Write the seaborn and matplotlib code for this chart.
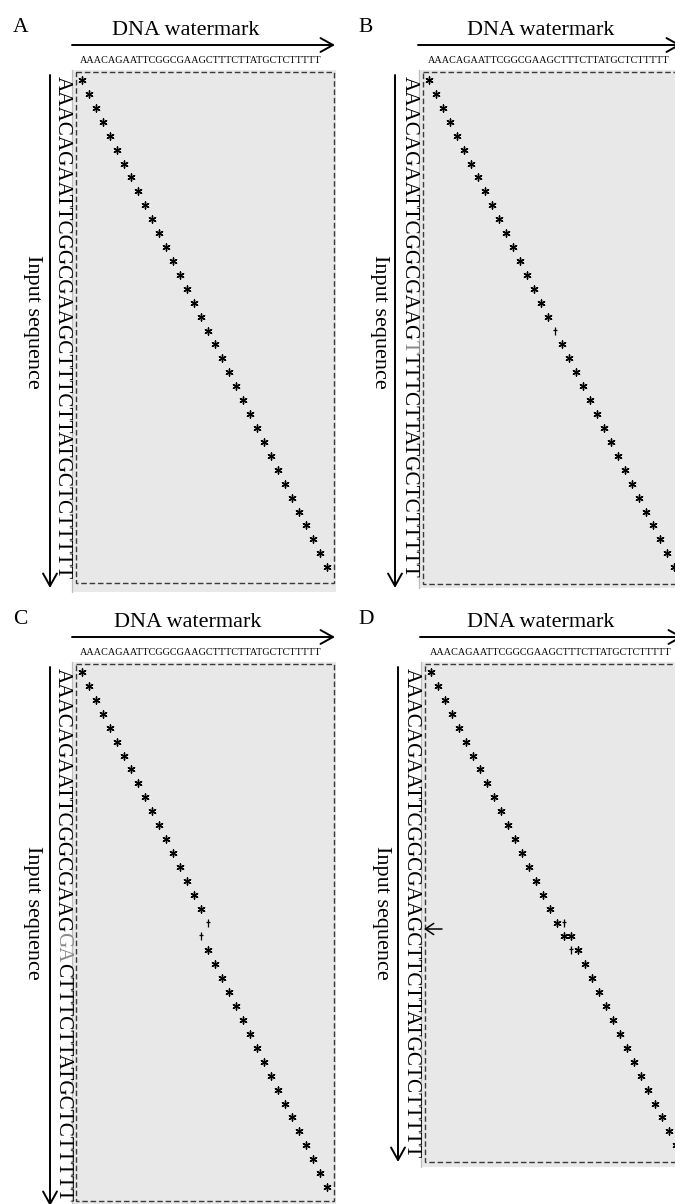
import matplotlib
matplotlib.use("Agg")
import pandas as pd
import seaborn as sns
import matplotlib.pyplot as plt
from matplotlib.patches import Rectangle, FancyArrowPatch
from matplotlib.path import Path
from matplotlib.font_manager import FontProperties

# ---- data -------------------------------------------------------------
watermark = "AAACAGAATTCGGCGAAGCTTTCTTATGCTCTTTTT"
panel_labels = ["A", "B", "C", "D"]
input_seqs = [
    "AAACAGAATTCGGCGAAGCTTTCTTATGCTCTTTTT",    # original
    "AAACAGAATTCGGCGAAGTTTTCTTATGCTCTTTTT",    # substitution C->T
    "AAACAGAATTCGGCGAAGGACTTTCTTATGCTCTTTTT",  # insertion GA
    "AAACAGAATTCGGCGAAGCTTCTTATGCTCTTTTT",     # deletion of one T
]
grey_letters = [[], [18], [18, 19], []]

# matched cells (row = input position, col = watermark position)
full_rows = [
    [0, 1, 2, 3, 4, 5, 6, 7, 8, 9, 10, 11, 12, 13, 14, 15, 16, 17, 18, 19, 20, 21, 22, 23, 24, 25, 26, 27, 28, 29, 30, 31, 32, 33, 34, 35],
    [0, 1, 2, 3, 4, 5, 6, 7, 8, 9, 10, 11, 12, 13, 14, 15, 16, 17, 19, 20, 21, 22, 23, 24, 25, 26, 27, 28, 29, 30, 31, 32, 33, 34, 35],
    [0, 1, 2, 3, 4, 5, 6, 7, 8, 9, 10, 11, 12, 13, 14, 15, 16, 17, 20, 21, 22, 23, 24, 25, 26, 27, 28, 29, 30, 31, 32, 33, 34, 35, 36, 37],
    [0, 1, 2, 3, 4, 5, 6, 7, 8, 9, 10, 11, 12, 13, 14, 15, 16, 17, 18, 19, 19, 20, 21, 22, 23, 24, 25, 26, 27, 28, 29, 30, 31, 32, 33, 34],
]
full_cols = [
    [0, 1, 2, 3, 4, 5, 6, 7, 8, 9, 10, 11, 12, 13, 14, 15, 16, 17, 18, 19, 20, 21, 22, 23, 24, 25, 26, 27, 28, 29, 30, 31, 32, 33, 34, 35],
    [0, 1, 2, 3, 4, 5, 6, 7, 8, 9, 10, 11, 12, 13, 14, 15, 16, 17, 19, 20, 21, 22, 23, 24, 25, 26, 27, 28, 29, 30, 31, 32, 33, 34, 35],
    [0, 1, 2, 3, 4, 5, 6, 7, 8, 9, 10, 11, 12, 13, 14, 15, 16, 17, 18, 19, 20, 21, 22, 23, 24, 25, 26, 27, 28, 29, 30, 31, 32, 33, 34, 35],
    [0, 1, 2, 3, 4, 5, 6, 7, 8, 9, 10, 11, 12, 13, 14, 15, 16, 17, 18, 19, 20, 21, 22, 23, 24, 25, 26, 27, 28, 29, 30, 31, 32, 33, 34, 35],
]
# weak (partial) matches
part_rows = [[], [18], [18, 19], [18, 20]]
part_cols = [[], [18], [18, 17], [19, 20]]

# ---- layout (pixels) ----------------------------------------------------
W, H = 675, 1204
DX, DY = 7.0, 13.92
layout = [
    dict(lab=(13, 32), title=(186, 35), harrow=(72, 335, 45), top=(80, 63),
         varrow=(50, 75, 588), vseq=(62.5, 76), ylab=(32, 322),
         box=(72, 70, 336, 592), dash=(76, 72, 334, 583), origin=(82, 80)),
    dict(lab=(358, 32), title=(541, 35), harrow=(418, 681, 45), top=(428, 63),
         varrow=(395, 75, 588), vseq=(409, 76), ylab=(380, 322),
         box=(419, 70, 690, 588), dash=(423, 72, 681, 584), origin=(429.3, 80)),
    dict(lab=(13, 624), title=(188, 627), harrow=(72, 335, 637), top=(80, 655),
         varrow=(50, 667, 1206), vseq=(62.5, 668), ylab=(32, 913),
         box=(72, 662, 336, 1215), dash=(76, 664, 334, 1201), origin=(82.3, 672)),
    dict(lab=(358, 624), title=(541, 627), harrow=(420, 683, 637), top=(430, 655),
         varrow=(398, 667, 1162), vseq=(411, 668), ylab=(381, 913),
         box=(421, 662, 690, 1167), dash=(425, 664, 683, 1162), origin=(430.7, 672)),
]
deletion_arrow = (442, 424, 929)

sns.set_theme(style="white")
plt.rcParams["font.family"] = ["Liberation Serif", "DejaVu Serif"]
plt.rcParams["text.color"] = "black"

fig = plt.figure(figsize=(W / 100, H / 100), dpi=100)
fig.patch.set_facecolor("white")

over = fig.add_axes([0, 0, 1, 1], zorder=10)
over.set_xlim(0, W)
over.set_ylim(H, 0)
over.axis("off")
over.patch.set_visible(False)

renderer = fig.canvas.get_renderer()
vfont = FontProperties(family="Liberation Serif", size=15.2)

part_marker = Path([(0, -1), (0, 1), (-0.45, 0.3), (0.45, 0.3)],
                   [Path.MOVETO, Path.LINETO, Path.MOVETO, Path.LINETO])

for i, L in enumerate(layout):
    bx0, by0, bx1, by1 = L["box"]
    ox, oy = L["origin"]
    ax = fig.add_axes([bx0 / W, 1 - by1 / H, (bx1 - bx0) / W, (by1 - by0) / H])
    ax.set_facecolor("#e8e8e8")

    full = pd.DataFrame({"col": full_cols[i], "row": full_rows[i]})
    sns.scatterplot(data=full, x="col", y="row", marker=(6, 2, 0), s=26,
                    color="black", edgecolor="black", linewidth=1.0, ax=ax)
    if part_rows[i]:
        part = pd.DataFrame({"col": part_cols[i], "row": part_rows[i]})
        sns.scatterplot(data=part, x="col", y="row", marker=part_marker, s=30,
                        color="black", edgecolor="black", linewidth=0.9, ax=ax)

    ax.set_xlim((bx0 - ox) / DX, (bx1 - ox) / DX)
    ax.set_ylim((by1 - oy) / DY, (by0 - oy) / DY)
    ax.set_xticks([])
    ax.set_yticks([])
    ax.set_xlabel("")
    ax.set_ylabel("")
    for side in ["top", "right", "bottom"]:
        ax.spines[side].set_visible(False)
    ax.spines["left"].set_color("#bdbdbd")
    ax.spines["left"].set_linewidth(0.9)

    # dashed frame
    dx0, dy0, dx1, dy1 = L["dash"]
    over.add_patch(Rectangle((dx0, dy0), dx1 - dx0, dy1 - dy0, fill=False,
                             edgecolor="#3a3a3a", linewidth=1.0,
                             linestyle=(0, (4, 2))))

    # panel letter and title
    over.text(*L["lab"], panel_labels[i], fontsize=15.5, ha="left", va="baseline")
    over.text(*L["title"], "DNA watermark", fontsize=16, ha="center", va="baseline")

    # horizontal arrow
    hx0, hx1, hy = L["harrow"]
    over.add_patch(FancyArrowPatch((hx0, hy), (hx1, hy),
                                   arrowstyle="->,head_length=9,head_width=5",
                                   mutation_scale=1, lw=1.4, color="black",
                                   shrinkA=0, shrinkB=0))
    over.text(*L["top"], watermark, fontsize=7.3, ha="left", va="baseline")

    # vertical arrow
    vx, vy0, vy1 = L["varrow"]
    over.add_patch(FancyArrowPatch((vx, vy0), (vx, vy1),
                                   arrowstyle="->,head_length=9,head_width=5",
                                   mutation_scale=1, lw=1.4, color="black",
                                   shrinkA=0, shrinkB=0))

    # vertical input sequence, grey letters for edits
    seq = input_seqs[i]
    sx, sy = L["vseq"]
    runs = []
    for k, ch in enumerate(seq):
        c = "#8a8a8a" if k in grey_letters[i] else "black"
        if runs and runs[-1][1] == c:
            runs[-1][0] += ch
        else:
            runs.append([ch, c, k])
    for text, c, k in runs:
        offset = renderer.get_text_width_height_descent(seq[:k], vfont, ismath=False)[0] if k else 0
        over.text(sx, sy + offset, text, fontproperties=vfont, color=c,
                  rotation=-90, rotation_mode="anchor", ha="left", va="center")

    over.text(*L["ylab"], "Input sequence", fontsize=16, rotation=-90,
              ha="center", va="center")

# deletion marker in panel D
ax0, ax1, ay = deletion_arrow
over.add_patch(FancyArrowPatch((ax0, ay), (ax1, ay),
                               arrowstyle="->,head_length=6,head_width=4",
                               mutation_scale=1, lw=1.1, color="black",
                               shrinkA=0, shrinkB=0))

fig.savefig("out.png", dpi=100, facecolor="white")
